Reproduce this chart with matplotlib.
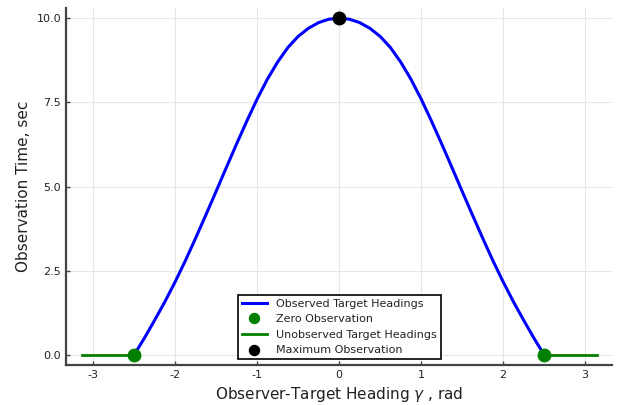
import numpy as np
import matplotlib
matplotlib.use("Agg")
import matplotlib.pyplot as plt

# observation time vs. observer-target heading (observable sector)
heading = [-2.5, -2.375, -2.25, -2.125, -2.0, -1.875, -1.75, -1.625, -1.5,
           -1.375, -1.25, -1.125, -1.0, -0.875, -0.75, -0.625, -0.5, -0.375,
           -0.25, -0.125, 0.0, 0.125, 0.25, 0.375, 0.5, 0.625, 0.75, 0.875,
           1.0, 1.125, 1.25, 1.375, 1.5, 1.625, 1.75, 1.875, 2.0, 2.125,
           2.25, 2.375, 2.5]
obs_time = [0.0, 0.50, 1.03, 1.58, 2.17, 2.80, 3.47, 4.16, 4.86,
            5.57, 6.27, 6.95, 7.60, 8.19, 8.70, 9.13, 9.46, 9.70,
            9.87, 9.97, 10.0, 9.97, 9.87, 9.70, 9.46, 9.13, 8.70, 8.19,
            7.60, 6.95, 6.27, 5.57, 4.86, 4.16, 3.47, 2.80, 2.17, 1.58,
            1.03, 0.50, 0.0]

# headings where the target is never observed
unobs_left_x = [-np.pi, -2.5]
unobs_right_x = [2.5, np.pi]
unobs_y = [0.0, 0.0]

zero_x = [-2.5, 2.5]
zero_y = [0.0, 0.0]
max_x = [0.0]
max_y = [10.0]

xticks = [-3, -2, -1, 0, 1, 2, 3]
yticks = [0.0, 2.5, 5.0, 7.5, 10.0]

text_col = "#222222"

fig = plt.figure(figsize=(6.24, 4.05), dpi=100)
ax = fig.add_axes([0.106, 0.099, 0.875, 0.881])

ax.plot(heading, obs_time, color="blue", lw=2.2, label="Observed Target Headings",
        solid_joinstyle="round", zorder=3)
ax.plot(zero_x, zero_y, "o", color="green", ms=9, label="Zero Observation", zorder=4)
ax.plot(unobs_left_x, unobs_y, color="green", lw=2.0, label="Unobserved Target Headings", zorder=3)
ax.plot(unobs_right_x, unobs_y, color="green", lw=2.0, zorder=3)
ax.plot(max_x, max_y, "o", color="black", ms=9, label="Maximum Observation", zorder=4)

ax.set_xlim(-3.33, 3.33)
ax.set_ylim(-0.3, 10.3)
ax.set_xticks(xticks)
ax.set_xticklabels([str(t) for t in xticks])
ax.set_yticks(yticks)
ax.set_yticklabels([f"{t:.1f}" for t in yticks])

ax.grid(True, color="#e6e6e6", lw=0.8)
ax.set_axisbelow(True)
for side in ["top", "right"]:
    ax.spines[side].set_visible(False)
for side in ["left", "bottom"]:
    ax.spines[side].set_color("#444444")
    ax.spines[side].set_linewidth(1.6)
ax.tick_params(direction="in", length=3, width=1, colors="#444444",
               labelcolor=text_col, labelsize=8)

ax.set_xlabel(r"Observer-Target Heading $\gamma$ , rad", fontsize=11, color=text_col)
ax.set_ylabel("Observation Time, sec", fontsize=11, color=text_col)

leg = ax.legend(loc="lower center", fontsize=8, fancybox=False, framealpha=1,
                edgecolor="black", handlelength=2.3, borderaxespad=0.5,
                labelspacing=0.5, borderpad=0.35, markerscale=0.8,
                labelcolor=text_col)
leg.get_frame().set_linewidth(1.2)

fig.savefig("out.png", dpi=100)
